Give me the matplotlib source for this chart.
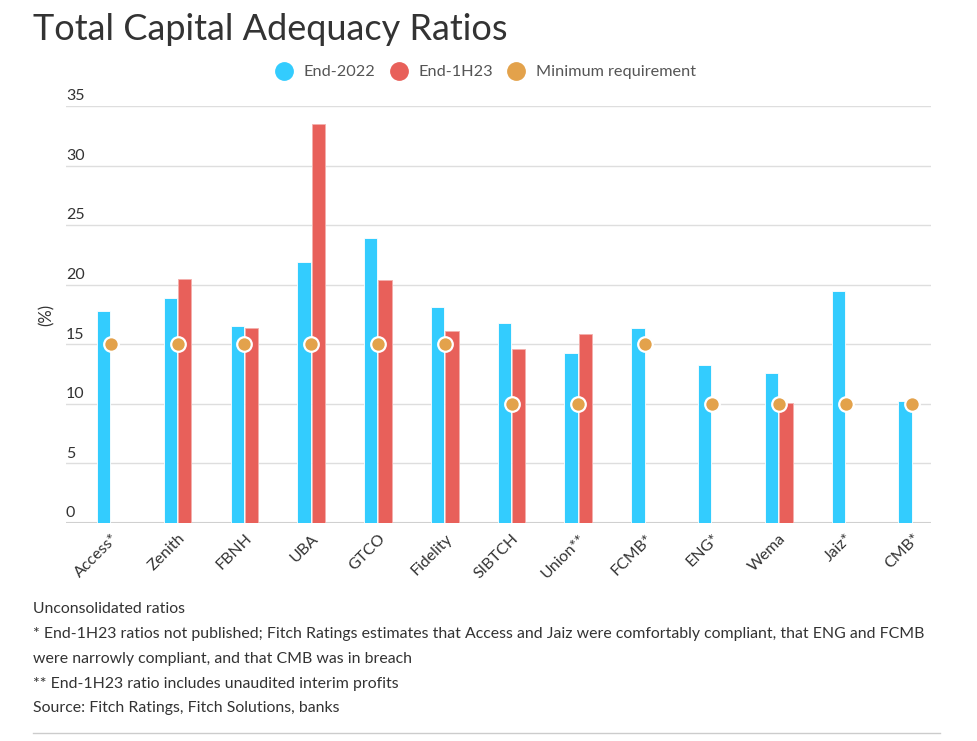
import numpy as np
import matplotlib
matplotlib.use('Agg')
import matplotlib.pyplot as plt
from matplotlib.lines import Line2D
from matplotlib import transforms

plt.rcParams['font.family'] = ['Lato', 'DejaVu Sans']

banks = ['Access*', 'Zenith', 'FBNH', 'UBA', 'GTCO', 'Fidelity', 'SIBTCH',
         'Union**', 'FCMB*', 'ENG*', 'Wema', 'Jaiz*', 'CMB*']
end_2022 = [17.8, 18.9, 16.5, 21.9, 23.9, 18.1, 16.8, 14.3, 16.4, 13.3, 12.6, 19.5, 10.2]
end_1h23 = [np.nan, 20.5, 16.4, 33.5, 20.4, 16.1, 14.6, 15.9, np.nan, np.nan, 10.05, np.nan, np.nan]
min_req = [15, 15, 15, 15, 15, 15, 10, 10, 15, 10, 10, 10, 10]
yticks = [0, 5, 10, 15, 20, 25, 30, 35]

notes = [
    'Unconsolidated ratios',
    '* End-1H23 ratios not published; Fitch Ratings estimates that Access and Jaiz were comfortably compliant, that ENG and FCMB',
    'were narrowly compliant, and that CMB was in breach',
    '** End-1H23 ratio includes unaudited interim profits',
    'Source: Fitch Ratings, Fitch Solutions, banks',
]

BLUE = '#33CCFE'
RED = '#E8605A'
ORANGE = '#E3A24B'

W, H = 977, 741
fig = plt.figure(figsize=(W / 100, H / 100), dpi=100)
ax = fig.add_axes([66 / W, 1 - 523 / H, (931 - 66) / W, (523 - 106) / H])

x = np.arange(len(banks))
bw = 0.2
ax.bar(x - 0.107, end_2022, width=bw, color=BLUE, edgecolor='white', linewidth=0.6, zorder=2)
ax.bar(x + 0.107, end_1h23, width=bw, color=RED, edgecolor='#f4b0ad', linewidth=0.6, zorder=2)
ax.plot(x, min_req, linestyle='none', marker='o', markersize=10.5, markerfacecolor=ORANGE,
        markeredgecolor='white', markeredgewidth=1.6, zorder=4)

ax.set_ylim(0, 35)
ax.set_xlim(-0.67, 12.28)
ax.set_yticks(yticks)
ax.yaxis.grid(True, color='#dedede', linewidth=1)
ax.set_axisbelow(True)
ax.axhline(0, color='#d0d0d0', linewidth=1.5, zorder=1)
for s in ax.spines.values():
    s.set_visible(False)
ax.tick_params(axis='y', length=0, labelleft=False)
ax.tick_params(axis='x', length=0, pad=6)

# y labels sit just above their gridline
trans = transforms.blended_transform_factory(ax.transAxes, ax.transData)
off = transforms.offset_copy(trans, fig=fig, y=2, units='points')
for v in yticks:
    ax.text(0, v, str(v), transform=off, ha='left', va='bottom', fontsize=11.5, color='#333333')

ax.set_xticks(x)
ax.set_xticklabels(banks, rotation=45, ha='right', va='top', rotation_mode='anchor',
                   fontsize=11.5, color='#333333')
ax.set_ylabel('(%)', fontsize=12, color='#333333', labelpad=8)

fig.text(33 / W, 1 - 30 / H, 'Total Capital Adequacy Ratios', fontsize=26, color='#333333',
         va='center', ha='left')

handles = [Line2D([], [], linestyle='none', marker='o', markersize=12.5, color=c)
           for c in (BLUE, RED, ORANGE)]
fig.legend(handles, ['End-2022', 'End-1H23', 'Minimum requirement'], loc='center',
           bbox_to_anchor=(485 / W, 1 - 72 / H), ncol=3, frameon=False, fontsize=11.7,
           handletextpad=0.6, columnspacing=0.85, labelcolor='#555555', handlelength=1.2)

ys = [609, 634, 659, 684, 708]
for yy, t in zip(ys, notes):
    fig.text(33 / W, 1 - yy / H, t, fontsize=11.4, color='#333333', va='center', ha='left')

fig.add_artist(Line2D([33 / W, 940 / W], [1 - 733 / H, 1 - 733 / H], color='#cccccc', linewidth=1))

fig.savefig('out.png', dpi=100)
